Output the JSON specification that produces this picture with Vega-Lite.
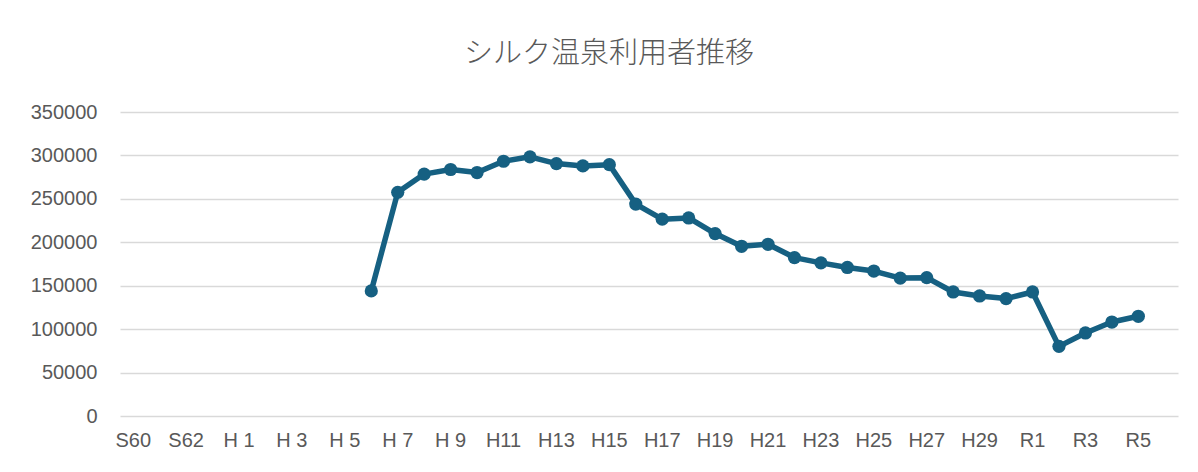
{
  "$schema": "https://vega.github.io/schema/vega-lite/v6.json",
  "autosize": "none",
  "width": 1058,
  "height": 304,
  "padding": {"left": 120, "top": 112, "right": 20, "bottom": 56},
  "background": "white",
  "config": {"view": {"stroke": null}},
  "title": {
    "text": "シルク温泉利用者推移",
    "font": "Noto Sans CJK JP",
    "fontSize": 29,
    "fontWeight": 300,
    "color": "#595959",
    "anchor": "middle",
    "frame": "group",
    "dx": -40,
    "baseline": "bottom",
    "offset": 4
  },
  "data": {
    "values": [
      {"year": "H 6", "users": 144000},
      {"year": "H 7", "users": 257500},
      {"year": "H 8", "users": 278500},
      {"year": "H 9", "users": 283800},
      {"year": "H10", "users": 280300},
      {"year": "H11", "users": 293300},
      {"year": "H12", "users": 298400},
      {"year": "H13", "users": 290600},
      {"year": "H14", "users": 287900},
      {"year": "H15", "users": 289400},
      {"year": "H16", "users": 244000},
      {"year": "H17", "users": 226600},
      {"year": "H18", "users": 228000},
      {"year": "H19", "users": 210000},
      {"year": "H20", "users": 195400},
      {"year": "H21", "users": 197700},
      {"year": "H22", "users": 182400},
      {"year": "H23", "users": 176300},
      {"year": "H24", "users": 171000},
      {"year": "H25", "users": 166900},
      {"year": "H26", "users": 158800},
      {"year": "H27", "users": 159300},
      {"year": "H28", "users": 142800},
      {"year": "H29", "users": 138200},
      {"year": "H30", "users": 135200},
      {"year": "R1", "users": 142800},
      {"year": "R2", "users": 80200},
      {"year": "R3", "users": 95600},
      {"year": "R4", "users": 108200},
      {"year": "R5", "users": 114800}
    ]
  },
  "encoding": {
    "x": {
      "field": "year",
      "type": "nominal",
      "sort": null,
      "scale": {
        "type": "band",
        "paddingInner": 0,
        "paddingOuter": 0,
        "domain": ["S60","S61","S62","S63","H 1","H 2","H 3","H 4","H 5","H 6","H 7","H 8","H 9","H10","H11","H12","H13","H14","H15","H16","H17","H18","H19","H20","H21","H22","H23","H24","H25","H26","H27","H28","H29","H30","R1","R2","R3","R4","R5","R6"]
      },
      "axis": {
        "title": null,
        "values": ["S60","S62","H 1","H 3","H 5","H 7","H 9","H11","H13","H15","H17","H19","H21","H23","H25","H27","H29","R1","R3","R5"],
        "labelAngle": 0,
        "labelFont": "Liberation Sans",
        "labelFontSize": 20,
        "labelColor": "#595959",
        "labelPadding": 14,
        "ticks": false,
        "domain": false,
        "grid": false
      }
    },
    "y": {
      "field": "users",
      "type": "quantitative",
      "scale": {"domain": [0, 350000], "nice": false},
      "axis": {
        "title": null,
        "values": [0,50000,100000,150000,200000,250000,300000,350000],
        "format": "d",
        "labelFont": "Liberation Sans",
        "labelFontSize": 20,
        "labelColor": "#595959",
        "labelPadding": 23,
        "ticks": false,
        "domain": false,
        "grid": true,
        "gridColor": "#d9d9d9",
        "gridWidth": 1.5
      }
    }
  },
  "layer": [
    {"mark": {"type": "line", "color": "#166082", "strokeWidth": 5.5, "strokeJoin": "round"}},
    {"mark": {"type": "point", "filled": true, "color": "#166082", "size": 175, "opacity": 1}}
  ]
}
